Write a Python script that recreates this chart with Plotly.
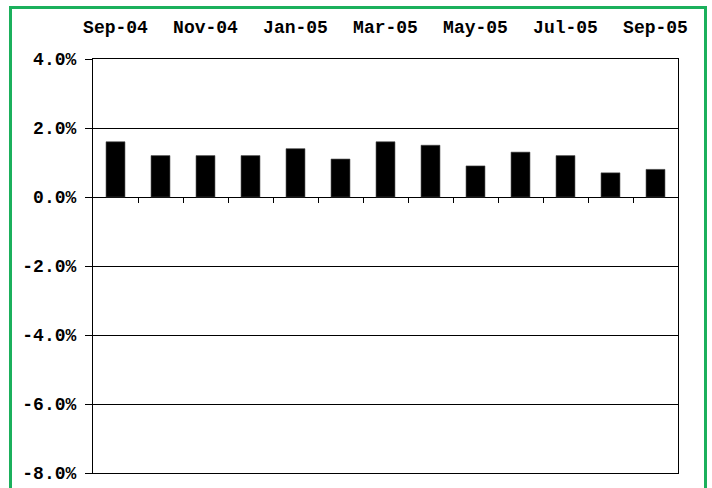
import numpy as np
import plotly.graph_objects as go

# Monthly returns, Sep-04 through Sep-05 (percent)
months = ["Sep-04", "Oct-04", "Nov-04", "Dec-04", "Jan-05", "Feb-05", "Mar-05",
          "Apr-05", "May-05", "Jun-05", "Jul-05", "Aug-05", "Sep-05"]
returns = [1.6, 1.2, 1.2, 1.2, 1.4, 1.1, 1.6, 1.5, 0.9, 1.3, 1.2, 0.7, 0.8]
y_ticks = [4, 2, 0, -2, -4, -6, -8]
y_tick_text = [f"{v:.1f}%" for v in y_ticks]

pos = np.arange(len(months))
label_pos = pos[::2]
label_text = [months[i] for i in label_pos]
boundaries = pos[:-1] + 0.5

FONT = dict(family="Liberation Mono, Courier New, monospace", size=18, color="black", weight="bold")

fig = go.Figure()
fig.add_trace(go.Bar(
    x=pos, y=returns, width=0.42,
    marker=dict(color="black", line=dict(color="#444", width=0.6)),
    showlegend=False,
))
# empty trace so the zero-line tick axis is rendered
fig.add_trace(go.Scatter(x=[None], y=[None], xaxis="x2", showlegend=False, hoverinfo="skip"))

fig.update_layout(
    width=712, height=488,
    margin=dict(l=93, r=34, t=59, b=15),
    paper_bgcolor="white", plot_bgcolor="white",
    font=FONT,
    xaxis=dict(
        side="top", range=[-0.5, len(months) - 0.5],
        tickmode="array", tickvals=label_pos, ticktext=label_text,
        showgrid=False, zeroline=False, ticks="",
        showline=True, mirror=True, linecolor="black", linewidth=1.2,
        ticklabelstandoff=18, tickfont=FONT, automargin=False,
    ),
    xaxis2=dict(
        overlaying="x", anchor="free", position=8 / 12, side="bottom",
        range=[-0.5, len(months) - 0.5],
        tickmode="array", tickvals=boundaries,
        ticks="outside", ticklen=5, tickwidth=1, tickcolor="black",
        showticklabels=False, showgrid=False, zeroline=False, showline=False,
        automargin=False,
    ),
    yaxis=dict(
        range=[-8, 4], tickmode="array", tickvals=y_ticks, ticktext=y_tick_text,
        showgrid=True, gridcolor="black", gridwidth=1,
        zeroline=True, zerolinecolor="black", zerolinewidth=1.2,
        showline=True, mirror=True, linecolor="black", linewidth=1.2,
        ticks="outside", ticklen=7, tickcolor="black", tickwidth=1,
        ticklabelstandoff=5, tickfont=FONT, automargin=False,
    ),
    shapes=[dict(
        type="rect", xref="paper", yref="paper",
        x0=(10.5 - 93) / 585, x1=(705.5 - 93) / 585,
        y0=-0.2, y1=(473 - 7.5) / 414,
        line=dict(color="#1bb05c", width=3), fillcolor="rgba(0,0,0,0)",
        layer="below",
    )],
)

fig.write_html("out.html")
